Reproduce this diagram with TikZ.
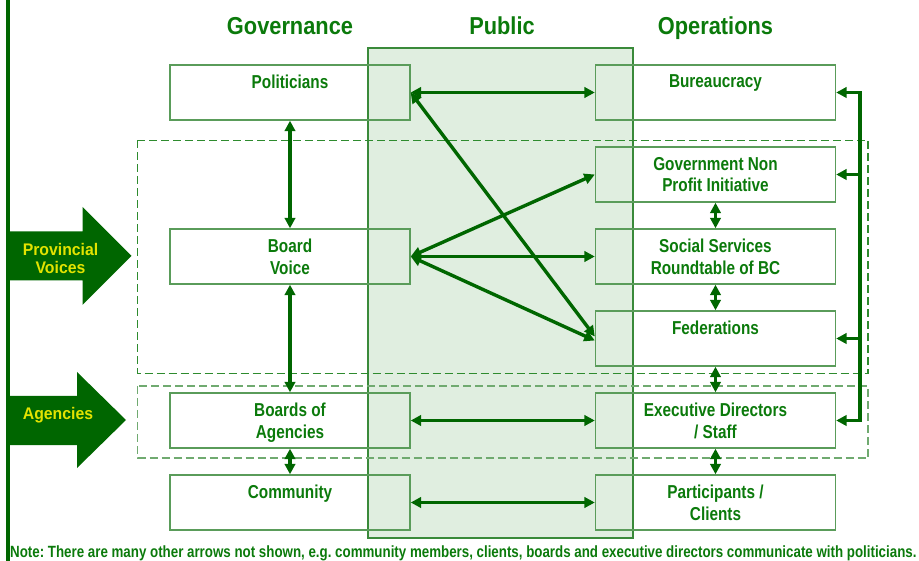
\documentclass[tikz,border=0pt]{standalone}
\usepackage{fontspec}
\newfontfamily\nb[FakeStretch=0.82]{Liberation Sans Bold}
\newfontfamily\hb[FakeStretch=0.89]{Liberation Sans Bold}
\newfontfamily\yb[FakeStretch=0.94]{Liberation Sans Bold}
\usetikzlibrary{arrows.meta}
\definecolor{dg}{HTML}{006600}
\definecolor{tg}{HTML}{0B7A0B}
\definecolor{bx}{HTML}{5A9C5A}
\definecolor{pubfill}{HTML}{E0EEE0}
\definecolor{publine}{HTML}{3A8A3A}
\definecolor{dashA}{HTML}{2E8B2E}
\definecolor{dashB}{HTML}{70AA70}
\definecolor{yel}{HTML}{E3E300}
\begin{document}
\begin{tikzpicture}[x=1pt,y=-1pt,
  box/.style={draw=bx,line width=1.4pt,minimum width=240pt,minimum height=55pt,inner sep=0pt},
  lbl/.style={anchor=north,inner sep=0pt,align=center,text=tg,font=\nb\fontsize{18.7}{21.5}\selectfont},
  hdr/.style={anchor=base,inner sep=0pt,text=tg,font=\hb\fontsize{24.5}{28}\selectfont},
  ylbl/.style={anchor=north,inner sep=0pt,align=center,text=yel,font=\yb\fontsize{16.8}{18}\selectfont},
  conn/.style={draw=dg,line width=3.4pt,{Triangle[length=10.5pt,width=10.5pt]}-{Triangle[length=10.5pt,width=10.5pt]}},
  oneway/.style={draw=dg,line width=3.4pt,-{Triangle[length=10.5pt,width=10.5pt]}},
  bigarrow/.style={fill=dg,draw=none},
  dashbox/.style={draw=dashA,line width=1.1pt,dash pattern=on 8pt off 4pt},
  dashboxb/.style={draw=dashB,line width=1.6pt,dash pattern=on 8pt off 4pt}
]
\useasboundingbox (0,0) rectangle (919,561);
% left rule
\fill[dg] (6,0) rectangle (10,561);
% public column
\draw[publine,fill=pubfill,line width=1.3pt] (368,48) rectangle (633,538);
% dashed groups
\draw[dashbox] (137.5,140.5) rectangle (868,373.5);
\draw[dashboxb] (137.5,386) rectangle (868,458);
% headers
\node[hdr] (hgov) at (290,34.3) {Governance};
\node[hdr] (hpub) at (502,34.3) {Public};
\node[hdr] (hops) at (715.5,34.3) {Operations};
% big arrows
\path[bigarrow] (10,231.5) -- (82.5,231.5) -- (82.5,207) -- (131.5,256) -- (82.5,305) -- (82.5,280.5) -- (10,280.5) -- cycle;
\path[bigarrow] (10,396) -- (77,396) -- (77,372) -- (126,420) -- (77,468) -- (77,445) -- (10,445) -- cycle;
\node[ylbl] (tpv) at (60.5,243.3) {Provincial\\Voices};
\node[ylbl] (tag) at (58,407.3) {Agencies};
% boxes left
\node[box] (pol) at (290,92.5) {};
\node[box] (bv) at (290,256.5) {};
\node[box] (boa) at (290,420.5) {};
\node[box] (com) at (290,502.5) {};
% boxes right
\node[box] (bur) at (715.5,92.5) {};
\node[box] (gnp) at (715.5,174.5) {};
\node[box] (ssr) at (715.5,256.5) {};
\node[box] (fed) at (715.5,338.5) {};
\node[box] (eds) at (715.5,420.5) {};
\node[box] (par) at (715.5,502.5) {};
% labels
\node[lbl] (tpol) at ([yshift=-10.5pt]pol.north) {Politicians};
\node[lbl] (tbv) at ([yshift=-10.5pt]bv.north) {Board\\Voice};
\node[lbl] (tboa) at ([yshift=-10.5pt]boa.north) {Boards of\\Agencies};
\node[lbl] (tcom) at ([yshift=-10.5pt]com.north) {Community};
\node[lbl] (tbur) at ([yshift=-10.5pt]bur.north) {Bureaucracy};
\node[lbl] (tgnp) at ([yshift=-10.5pt]gnp.north) {Government Non\\Profit Initiative};
\node[lbl] (tssr) at ([yshift=-10.5pt]ssr.north) {Social Services\\Roundtable of BC};
\node[lbl] (tfed) at ([yshift=-10.5pt]fed.north) {Federations};
\node[lbl] (teds) at ([yshift=-10.5pt]eds.north) {Executive Directors\\/ Staff};
\node[lbl] (tpar) at ([yshift=-10.5pt]par.north) {Participants /\\Clients};
% vertical links
\draw[conn] (pol.south) -- (bv.north);
\draw[conn] (bv.south) -- (boa.north);
\draw[conn] (boa.south) -- (com.north);
\draw[conn] (gnp.south) -- (ssr.north);
\draw[conn] (ssr.south) -- (fed.north);
\draw[conn] (fed.south) -- (eds.north);
\draw[conn] (eds.south) -- (par.north);
% horizontal / diagonal links
\draw[conn] (pol.east) -- (bur.west);
\draw[conn] (pol.east) -- ([yshift=2pt]fed.west);
\draw[conn] (bv.east) -- (gnp.west);
\draw[conn] (bv.east) -- (ssr.west);
\draw[conn] (bv.east) -- ([yshift=-2pt]fed.west);
\draw[conn] (boa.east) -- (eds.west);
\draw[conn] (com.east) -- (par.west);
% right bracket
\coordinate (r1) at (860,92.5);
\coordinate (r2) at (860,174.5);
\coordinate (r3) at (860,338.5);
\coordinate (r4) at (860,420.5);
\draw[dg,line width=3.4pt,line cap=rect] (r1) -- (r4);
\draw[oneway] (r1) -- (bur.east);
\draw[oneway] (r2) -- (gnp.east);
\draw[oneway] (r3) -- (fed.east);
\draw[oneway] (r4) -- (eds.east);
% note
\node[anchor=base west,inner sep=0pt,text=tg,font=\nb\fontsize{16.25}{18}\selectfont\frenchspacing] (note) at (10,557) {Note: There are many other arrows not shown, e.g. community members, clients, boards and executive directors communicate with politicians.};
\end{tikzpicture}
\end{document}
